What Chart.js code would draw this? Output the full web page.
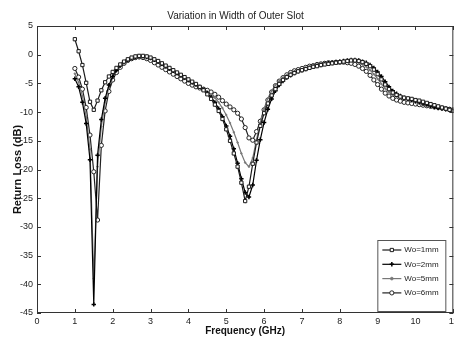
<!DOCTYPE html>
<html>
<head>
<meta charset="utf-8">
<script src="https://cdn.jsdelivr.net/npm/chart.js@4.4.1/dist/chart.umd.min.js"></script>
<style>
  html, body { margin: 0; padding: 0; background: #fff; overflow: hidden; }
  #wrap { width: 461px; height: 337px; position: relative; }
</style>
</head>
<body>
<div id="wrap"><canvas id="rl"></canvas></div>
<script>
const freq = [1.0,1.1,1.2,1.3,1.4,1.5,1.6,1.7,1.8,1.9,2.0,2.1,2.2,2.3,2.4,2.5,2.6,2.7,2.8,2.9,
  3.0,3.1,3.2,3.3,3.4,3.5,3.6,3.7,3.8,3.9,4.0,4.1,4.2,4.3,4.4,4.5,4.6,4.7,4.8,4.9,
  5.0,5.1,5.2,5.3,5.4,5.5,5.6,5.7,5.8,5.9,6.0,6.1,6.2,6.3,6.4,6.5,6.6,6.7,6.8,6.9,
  7.0,7.1,7.2,7.3,7.4,7.5,7.6,7.7,7.8,7.9,8.0,8.1,8.2,8.3,8.4,8.5,8.6,8.7,8.8,8.9,
  9.0,9.1,9.2,9.3,9.4,9.5,9.6,9.7,9.8,9.9,10.0,10.1,10.2,10.3,10.4,10.5,10.6,10.7,10.8,10.9,11.0];

const wo1 = [2.7,0.6,-1.8,-4.9,-8.2,-9.6,-8.0,-6.2,-4.8,-3.8,-3.0,-2.3,-1.7,-1.2,-0.8,-0.5,-0.3,-0.2,-0.2,-0.3,
  -0.5,-0.8,-1.1,-1.5,-1.9,-2.3,-2.7,-3.1,-3.5,-3.9,-4.3,-4.7,-5.1,-5.6,-6.2,-6.9,-7.7,-8.7,-9.8,-11.2,
  -13.0,-15.0,-17.2,-19.5,-22.3,-25.5,-23.0,-19.0,-15.3,-12.4,-10.2,-8.5,-7.1,-6.0,-5.1,-4.4,-3.9,-3.5,-3.2,-2.9,
  -2.7,-2.5,-2.3,-2.1,-2.0,-1.8,-1.7,-1.6,-1.5,-1.4,-1.3,-1.2,-1.1,-1.0,-1.0,-1.1,-1.3,-1.6,-2.0,-2.6,
  -3.4,-4.3,-5.2,-6.0,-6.6,-7.0,-7.3,-7.5,-7.6,-7.7,-7.9,-8.0,-8.2,-8.4,-8.6,-8.8,-9.0,-9.2,-9.4,-9.6,-9.8];

const wo2 = [-4.2,-5.6,-8.3,-12.0,-18.3,-43.5,-17.5,-11.3,-7.6,-5.3,-3.8,-2.7,-1.9,-1.3,-0.9,-0.6,-0.4,-0.3,-0.3,-0.4,
  -0.6,-0.9,-1.2,-1.6,-2.0,-2.4,-2.8,-3.2,-3.6,-4.0,-4.4,-4.8,-5.2,-5.6,-6.1,-6.7,-7.4,-8.3,-9.4,-10.8,
  -12.4,-14.2,-16.4,-18.9,-21.6,-24.0,-24.8,-22.7,-18.4,-14.8,-11.8,-9.5,-7.7,-6.3,-5.3,-4.6,-4.0,-3.6,-3.2,-2.9,
  -2.7,-2.5,-2.3,-2.1,-1.9,-1.8,-1.6,-1.5,-1.4,-1.3,-1.2,-1.1,-1.0,-0.9,-0.9,-1.0,-1.2,-1.4,-1.8,-2.3,
  -3.0,-3.8,-4.7,-5.6,-6.3,-6.8,-7.2,-7.5,-7.7,-7.9,-8.1,-8.3,-8.5,-8.7,-8.9,-9.1,-9.3,-9.4,-9.5,-9.6,-9.7];

const wo5 = [-3.3,-4.8,-7.2,-10.8,-16.5,-39.0,-19.5,-12.5,-8.3,-5.7,-4.0,-2.8,-2.0,-1.4,-1.0,-0.7,-0.5,-0.4,-0.4,-0.5,
  -0.7,-1.0,-1.4,-1.8,-2.2,-2.6,-3.0,-3.4,-3.8,-4.2,-4.6,-5.0,-5.3,-5.7,-6.0,-6.4,-6.9,-7.5,-8.3,-9.3,
  -10.5,-11.9,-13.5,-15.3,-17.2,-18.8,-19.5,-18.0,-14.8,-11.8,-9.4,-7.6,-6.3,-5.3,-4.6,-4.0,-3.6,-3.2,-2.9,-2.7,
  -2.5,-2.3,-2.1,-2.0,-1.8,-1.7,-1.6,-1.5,-1.4,-1.3,-1.2,-1.1,-1.1,-1.1,-1.2,-1.4,-1.7,-2.1,-2.7,-3.4,
  -4.2,-5.1,-5.9,-6.5,-7.0,-7.3,-7.5,-7.7,-7.9,-8.1,-8.3,-8.5,-8.7,-8.8,-9.0,-9.1,-9.3,-9.4,-9.5,-9.6,-9.7];

const wo6 = [-2.4,-3.9,-6.0,-9.2,-14.0,-20.4,-28.8,-15.8,-9.8,-6.4,-4.4,-3.1,-2.2,-1.5,-1.0,-0.7,-0.5,-0.4,-0.5,-0.7,
  -1.0,-1.4,-1.8,-2.2,-2.6,-3.0,-3.4,-3.8,-4.2,-4.6,-5.0,-5.3,-5.6,-5.8,-6.0,-6.2,-6.5,-6.9,-7.4,-8.0,
  -8.6,-9.1,-9.6,-10.2,-11.2,-12.7,-14.5,-14.9,-13.4,-11.6,-9.6,-7.9,-6.5,-5.4,-4.6,-4.0,-3.5,-3.1,-2.8,-2.6,
  -2.4,-2.2,-2.0,-1.9,-1.7,-1.6,-1.5,-1.4,-1.4,-1.3,-1.3,-1.3,-1.4,-1.5,-1.7,-2.0,-2.4,-2.9,-3.6,-4.4,
  -5.2,-6.0,-6.7,-7.2,-7.6,-7.9,-8.1,-8.3,-8.4,-8.5,-8.6,-8.7,-8.8,-8.9,-9.0,-9.1,-9.2,-9.3,-9.4,-9.5,-9.6];

const seriesNames = ['Wo=1mm', 'Wo=2mm', 'Wo=5mm', 'Wo=6mm'];
const xTicks = [0,1,2,3,4,5,6,7,8,9,10,11];
const yTicks = [5,0,-5,-10,-15,-20,-25,-30,-35,-40,-45];

const FONT = '"Liberation Sans", Arial, sans-serif';
const pts = ys => freq.map((f, i) => ({ x: f, y: ys[i] }));

const styles = [
  { color: '#1a1a1a', pointStyle: 'rect',   radius: 2.3, fill: '#fff', bw: 1 },
  { color: '#000',    pointStyle: 'cross',  radius: 2.2, fill: '#000', bw: 1.5 },
  { color: '#777',    pointStyle: 'circle', radius: 0.8, fill: '#777', bw: 0.8 },
  { color: '#222',    pointStyle: 'circle', radius: 2.1, fill: '#fff', bw: 1 },
];

const datasets = [wo1, wo2, wo5, wo6].map((ys, i) => ({
  label: seriesNames[i],
  data: pts(ys),
  borderColor: styles[i].color,
  borderWidth: 1.2,
  pointStyle: styles[i].pointStyle,
  pointRadius: styles[i].radius,
  pointBorderWidth: styles[i].bw,
  pointBackgroundColor: styles[i].fill,
  pointBorderColor: styles[i].color,
  tension: 0,
}));

// MATLAB-like inward ticks on all four sides
const boxTicks = {
  id: 'boxTicks',
  afterDraw(chart) {
    const { ctx, chartArea: a, scales: { x, y } } = chart;
    ctx.save();
    ctx.strokeStyle = '#333';
    ctx.lineWidth = 1;
    ctx.beginPath();
    xTicks.forEach(v => {
      const px = Math.round(x.getPixelForValue(v)) + 0.5;
      ctx.moveTo(px, a.bottom); ctx.lineTo(px, a.bottom - 4);
      ctx.moveTo(px, a.top); ctx.lineTo(px, a.top + 4);
    });
    yTicks.forEach(v => {
      const py = Math.round(y.getPixelForValue(v)) + 0.5;
      ctx.moveTo(a.left, py); ctx.lineTo(a.left + 4, py);
      ctx.moveTo(a.right, py); ctx.lineTo(a.right - 4, py);
    });
    ctx.stroke();
    ctx.strokeRect(a.left + 0.5, a.top + 0.5, a.right - a.left - 1, a.bottom - a.top - 1);
    ctx.restore();
  }
};

// legend box in the lower right of the plot
const boxLegend = {
  id: 'boxLegend',
  afterDraw(chart) {
    const { ctx, chartArea: a } = chart;
    const w = 68, h = 71;
    const bx = a.right - 8 - w, by = a.bottom - 2 - h;
    ctx.save();
    ctx.fillStyle = '#fff';
    ctx.fillRect(bx, by, w, h);
    ctx.strokeStyle = '#555';
    ctx.lineWidth = 1;
    ctx.strokeRect(bx + 0.5, by + 0.5, w, h);
    ctx.font = '8px ' + FONT;
    ctx.textBaseline = 'middle';
    chart.data.datasets.forEach((ds, i) => {
      const cy = by + 10 + i * 14.3;
      ctx.strokeStyle = ds.borderColor;
      ctx.lineWidth = 1.2;
      ctx.beginPath();
      ctx.moveTo(bx + 5, cy); ctx.lineTo(bx + 24, cy);
      ctx.stroke();
      ctx.fillStyle = ds.pointBackgroundColor;
      ctx.strokeStyle = ds.pointBorderColor;
      ctx.lineWidth = ds.pointBorderWidth;
      Chart.helpers.drawPoint(ctx, { pointStyle: ds.pointStyle, radius: Math.max(ds.pointRadius, 1.4), rotation: 0, borderWidth: ds.pointBorderWidth }, bx + 14.5, cy);
      ctx.fillStyle = '#222';
      ctx.fillText(ds.label, bx + 27, cy);
    });
    ctx.restore();
  }
};

new Chart(document.getElementById('rl'), {
  type: 'line',
  data: { datasets },
  options: {
    responsive: true,
    maintainAspectRatio: false,
    animation: false,
    layout: { padding: { left: 11, right: 1, top: 0, bottom: 0 } },
    plugins: {
      legend: { display: false },
      tooltip: { enabled: false },
      title: {
        display: true,
        text: 'Variation in Width of Outer Slot',
        color: '#222',
        font: { family: FONT, size: 10, weight: 'normal' },
        padding: { top: 10, bottom: 4 },
      },
    },
    scales: {
      x: {
        type: 'linear', min: 0, max: 11,
        afterBuildTicks: s => { s.ticks = xTicks.map(v => ({ value: v })); },
        afterFit: s => { s.height = 24; },
        grid: { display: false, drawTicks: false },
        border: { display: false },
        ticks: { color: '#222', font: { family: FONT, size: 9 }, padding: 3, maxRotation: 0 },
        title: { display: true, text: 'Frequency (GHz)', color: '#111', font: { family: FONT, size: 10, weight: 'bold' }, padding: { top: 0, bottom: 0 } },
      },
      y: {
        min: -45, max: 5,
        afterBuildTicks: s => { s.ticks = yTicks.map(v => ({ value: v })); },
        afterFit: s => { s.width = 26; },
        grid: { display: false, drawTicks: false },
        border: { display: false },
        ticks: { color: '#222', font: { family: FONT, size: 9 }, padding: 4 },
        title: { display: true, text: 'Return Loss (dB)', color: '#111', font: { family: FONT, size: 11, weight: 'bold' }, padding: { top: 0, bottom: 0 } },
      },
    },
  },
  plugins: [boxTicks, boxLegend],
});
</script>
</body>
</html>
